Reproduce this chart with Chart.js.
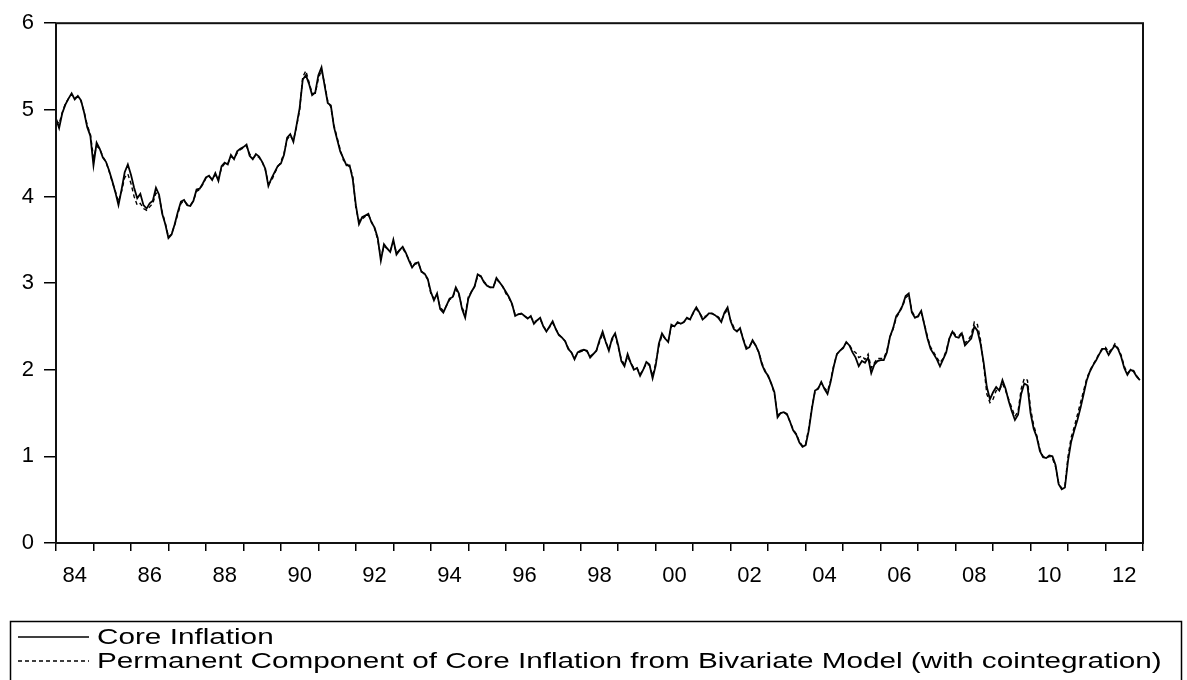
<!DOCTYPE html>
<html>
<head>
<meta charset="utf-8">
<script src="https://cdn.jsdelivr.net/npm/chart.js@4.4.1/dist/chart.umd.min.js"></script>
<style>
  html, body { margin: 0; padding: 0; background: #fff; }
</style>
</head>
<body>
<canvas id="chart" width="1187" height="680"></canvas>
<script>
// monthly series, 1984M01 .. 2012M12 (one row per year)
const startYear = 1984;
const endYear = 2013;

const coreInflation = [
  4.90, 4.79, 4.96, 5.06, 5.13, 5.19, 5.12, 5.16, 5.11, 4.97, 4.80, 4.70,
  4.36, 4.62, 4.55, 4.45, 4.40, 4.30, 4.18, 4.05, 3.90, 4.08, 4.28, 4.37,
  4.25, 4.10, 3.98, 4.03, 3.90, 3.86, 3.92, 3.95, 4.10, 4.02, 3.80, 3.68,
  3.52, 3.56, 3.68, 3.82, 3.94, 3.96, 3.90, 3.89, 3.95, 4.08, 4.09, 4.15,
  4.22, 4.24, 4.19, 4.27, 4.18, 4.35, 4.39, 4.37, 4.48, 4.43, 4.52, 4.55,
  4.57, 4.60, 4.47, 4.43, 4.49, 4.46, 4.40, 4.32, 4.12, 4.21, 4.28, 4.35,
  4.38, 4.48, 4.68, 4.72, 4.63, 4.82, 5.02, 5.35, 5.40, 5.30, 5.17, 5.20,
  5.40, 5.49, 5.28, 5.08, 5.05, 4.80, 4.66, 4.52, 4.44, 4.36, 4.36, 4.20,
  3.90, 3.68, 3.76, 3.78, 3.80, 3.70, 3.64, 3.52, 3.26, 3.45, 3.40, 3.36,
  3.50, 3.33, 3.38, 3.42, 3.35, 3.26, 3.18, 3.23, 3.24, 3.13, 3.11, 3.05,
  2.90, 2.80, 2.88, 2.70, 2.66, 2.74, 2.82, 2.84, 2.95, 2.88, 2.70, 2.60,
  2.82, 2.90, 2.96, 3.10, 3.08, 3.01, 2.97, 2.95, 2.95, 3.06, 3.01, 2.96,
  2.90, 2.84, 2.76, 2.62, 2.64, 2.65, 2.62, 2.59, 2.62, 2.53, 2.57, 2.60,
  2.50, 2.44, 2.50, 2.56, 2.47, 2.40, 2.37, 2.33, 2.24, 2.20, 2.12, 2.20,
  2.22, 2.23, 2.22, 2.14, 2.18, 2.22, 2.34, 2.44, 2.32, 2.22, 2.36, 2.42,
  2.28, 2.10, 2.04, 2.18, 2.08, 2.00, 2.02, 1.93, 2.00, 2.09, 2.06, 1.90,
  2.05, 2.30, 2.42, 2.36, 2.32, 2.52, 2.50, 2.55, 2.53, 2.55, 2.60, 2.58,
  2.66, 2.72, 2.66, 2.58, 2.61, 2.65, 2.65, 2.63, 2.60, 2.55, 2.66, 2.72,
  2.56, 2.47, 2.44, 2.48, 2.35, 2.24, 2.26, 2.34, 2.28, 2.20, 2.06, 1.98,
  1.93, 1.84, 1.74, 1.45, 1.50, 1.51, 1.49, 1.40, 1.30, 1.25, 1.16, 1.11,
  1.13, 1.30, 1.55, 1.76, 1.78, 1.86, 1.78, 1.72, 1.86, 2.04, 2.18, 2.22,
  2.25, 2.32, 2.28, 2.20, 2.14, 2.04, 2.10, 2.08, 2.14, 1.96, 2.06, 2.10,
  2.11, 2.11, 2.20, 2.38, 2.48, 2.62, 2.67, 2.74, 2.85, 2.88, 2.66, 2.60,
  2.62, 2.68, 2.52, 2.36, 2.24, 2.18, 2.12, 2.04, 2.12, 2.20, 2.36, 2.44,
  2.38, 2.37, 2.42, 2.28, 2.32, 2.36, 2.50, 2.45, 2.30, 2.08, 1.80, 1.66,
  1.74, 1.80, 1.76, 1.88, 1.78, 1.64, 1.52, 1.42, 1.48, 1.72, 1.84, 1.82,
  1.50, 1.32, 1.22, 1.06, 0.99, 0.98, 1.01, 1.00, 0.90, 0.68, 0.62, 0.64,
  0.95, 1.17, 1.30, 1.42, 1.56, 1.72, 1.88, 1.98, 2.05, 2.11, 2.18, 2.24,
  2.24, 2.17, 2.23, 2.28, 2.24, 2.15, 2.02, 1.94, 2.00, 1.98, 1.92, 1.88
];

const permanentComponent = [
  4.88, 4.84, 4.97, 5.07, 5.13, 5.18, 5.14, 5.15, 5.10, 4.98, 4.82, 4.72,
  4.45, 4.58, 4.55, 4.46, 4.40, 4.29, 4.17, 4.06, 3.94, 4.06, 4.22, 4.26,
  4.15, 4.00, 3.90, 3.92, 3.86, 3.84, 3.88, 3.92, 4.04, 4.00, 3.82, 3.69,
  3.53, 3.57, 3.67, 3.80, 3.92, 3.95, 3.91, 3.90, 3.95, 4.06, 4.08, 4.14,
  4.21, 4.23, 4.20, 4.25, 4.20, 4.33, 4.38, 4.38, 4.46, 4.44, 4.50, 4.54,
  4.56, 4.58, 4.49, 4.44, 4.47, 4.45, 4.40, 4.31, 4.15, 4.18, 4.27, 4.34,
  4.40, 4.50, 4.66, 4.70, 4.65, 4.80, 5.00, 5.38, 5.45, 5.32, 5.19, 5.19,
  5.36, 5.46, 5.30, 5.10, 5.03, 4.82, 4.68, 4.54, 4.42, 4.38, 4.34, 4.24,
  3.86, 3.72, 3.74, 3.77, 3.79, 3.71, 3.63, 3.50, 3.30, 3.42, 3.40, 3.37,
  3.47, 3.35, 3.38, 3.40, 3.34, 3.27, 3.20, 3.22, 3.23, 3.14, 3.10, 3.04,
  2.88, 2.82, 2.86, 2.72, 2.68, 2.74, 2.81, 2.83, 2.93, 2.86, 2.72, 2.64,
  2.84, 2.90, 2.96, 3.08, 3.08, 3.02, 2.98, 2.95, 2.96, 3.04, 3.01, 2.96,
  2.88, 2.83, 2.75, 2.64, 2.64, 2.64, 2.62, 2.60, 2.61, 2.55, 2.57, 2.58,
  2.51, 2.45, 2.49, 2.54, 2.47, 2.41, 2.37, 2.33, 2.25, 2.20, 2.14, 2.19,
  2.21, 2.22, 2.21, 2.16, 2.18, 2.22, 2.32, 2.41, 2.32, 2.24, 2.34, 2.40,
  2.26, 2.12, 2.06, 2.15, 2.08, 2.02, 2.02, 1.95, 2.00, 2.07, 2.05, 1.93,
  2.08, 2.27, 2.40, 2.36, 2.33, 2.50, 2.50, 2.54, 2.53, 2.55, 2.59, 2.58,
  2.65, 2.70, 2.66, 2.60, 2.62, 2.64, 2.65, 2.63, 2.61, 2.57, 2.64, 2.70,
  2.57, 2.49, 2.45, 2.47, 2.36, 2.26, 2.27, 2.33, 2.28, 2.20, 2.08, 1.99,
  1.92, 1.84, 1.72, 1.48, 1.50, 1.51, 1.48, 1.40, 1.31, 1.26, 1.17, 1.12,
  1.14, 1.33, 1.57, 1.75, 1.79, 1.85, 1.79, 1.75, 1.88, 2.05, 2.18, 2.22,
  2.26, 2.31, 2.29, 2.22, 2.20, 2.14, 2.16, 2.12, 2.18, 2.02, 2.08, 2.13,
  2.13, 2.13, 2.22, 2.38, 2.47, 2.60, 2.66, 2.73, 2.83, 2.86, 2.68, 2.61,
  2.61, 2.66, 2.53, 2.38, 2.26, 2.20, 2.14, 2.08, 2.13, 2.22, 2.36, 2.45,
  2.40, 2.39, 2.43, 2.31, 2.34, 2.40, 2.55, 2.52, 2.34, 2.05, 1.72, 1.62,
  1.66, 1.76, 1.76, 1.84, 1.76, 1.66, 1.56, 1.46, 1.52, 1.78, 1.90, 1.88,
  1.55, 1.36, 1.24, 1.08, 1.00, 0.98, 1.00, 0.98, 0.88, 0.69, 0.63, 0.66,
  1.00, 1.22, 1.34, 1.48, 1.62, 1.76, 1.90, 1.99, 2.06, 2.12, 2.19, 2.25,
  2.26, 2.20, 2.24, 2.30, 2.25, 2.17, 2.04, 1.96, 2.00, 1.99, 1.93, 1.88
];

const seriesNames = [
  "Core Inflation",
  "Permanent Component of Core Inflation from Bivariate Model (with cointegration)"
];

// labels sit in the middle of every second year
const xTickLabels = ["84", "86", "88", "90", "92", "94", "96", "98", "00", "02", "04", "06", "08", "10", "12"];
const yTicks = [0, 1, 2, 3, 4, 5, 6];

const toPoints = arr => arr.map((v, i) => ({ x: startYear + i / 12, y: v }));

const tickFont = { family: '"Liberation Sans", Arial, sans-serif', size: 22 };

// box round the plot area
const framePlugin = {
  id: 'frame',
  afterDraw(chart) {
    const { ctx, chartArea: a } = chart;
    ctx.save();
    ctx.strokeStyle = '#111';
    ctx.lineWidth = 2;
    ctx.strokeRect(a.left, a.top, a.right - a.left, a.bottom - a.top);
    ctx.restore();
  }
};

// boxed legend under the chart, text stretched like the original export
const legendBox = {
  id: 'legendBox',
  afterDraw(chart) {
    const ctx = chart.ctx;
    ctx.save();
    ctx.strokeStyle = '#000';
    ctx.lineWidth = 1.5;
    ctx.strokeRect(10.5, 621.5, 1171, 80);
    chart.data.datasets.forEach((ds, i) => {
      const y = 637 + i * 24;
      ctx.strokeStyle = '#000';
      ctx.lineWidth = 1.4;
      ctx.setLineDash(ds.borderDash || []);
      ctx.beginPath();
      ctx.moveTo(18, y);
      ctx.lineTo(89, y);
      ctx.stroke();
      ctx.setLineDash([]);
      ctx.save();
      ctx.translate(97, y);
      ctx.scale(1.35, 1);
      ctx.font = '22px "Liberation Sans", Arial, sans-serif';
      ctx.fillStyle = '#000';
      ctx.textBaseline = 'middle';
      ctx.fillText(ds.label, 0, 1);
      ctx.restore();
    });
    ctx.restore();
  }
};

new Chart(document.getElementById('chart'), {
  type: 'line',
  data: {
    datasets: [
      {
        label: seriesNames[0],
        data: toPoints(coreInflation),
        borderColor: '#000',
        borderWidth: 1.8,
        pointRadius: 0,
        tension: 0,
        order: 0
      },
      {
        label: seriesNames[1],
        data: toPoints(permanentComponent),
        borderColor: '#000',
        borderWidth: 1.4,
        borderDash: [4, 3],
        pointRadius: 0,
        tension: 0,
        order: 1
      }
    ]
  },
  options: {
    responsive: false,
    animation: false,
    layout: { padding: { top: 22, right: 44, bottom: 97, left: 0 } },
    plugins: {
      legend: { display: false },
      tooltip: { enabled: false }
    },
    scales: {
      x: {
        type: 'linear',
        min: startYear,
        max: endYear,
        afterBuildTicks: s => {
          s.ticks = [];
          for (let v = startYear; v <= endYear; v += 0.5) s.ticks.push({ value: v });
        },
        afterFit: s => { s.height = 40; },
        border: { display: false },
        grid: {
          drawOnChartArea: false,
          drawTicks: true,
          tickLength: 8,
          lineWidth: 1.5,
          color: c => (c.tick && Number.isInteger(c.tick.value)) ? '#000' : 'rgba(0,0,0,0)'
        },
        ticks: {
          autoSkip: false,
          maxRotation: 0,
          padding: 12,
          color: '#000',
          font: tickFont,
          callback: v => {
            const yr = Math.floor(v);
            if (v === yr || (yr - startYear) % 2 !== 0) return '';
            return xTickLabels[(yr - startYear) / 2];
          }
        }
      },
      y: {
        min: yTicks[0],
        max: yTicks[yTicks.length - 1],
        afterFit: s => { s.width = 56; },
        border: { display: false },
        grid: {
          drawOnChartArea: false,
          tickLength: 12,
          lineWidth: 1.5,
          color: '#000'
        },
        ticks: {
          stepSize: 1,
          padding: 10,
          color: '#000',
          font: tickFont
        }
      }
    }
  },
  plugins: [framePlugin, legendBox]
});
</script>
</body>
</html>
